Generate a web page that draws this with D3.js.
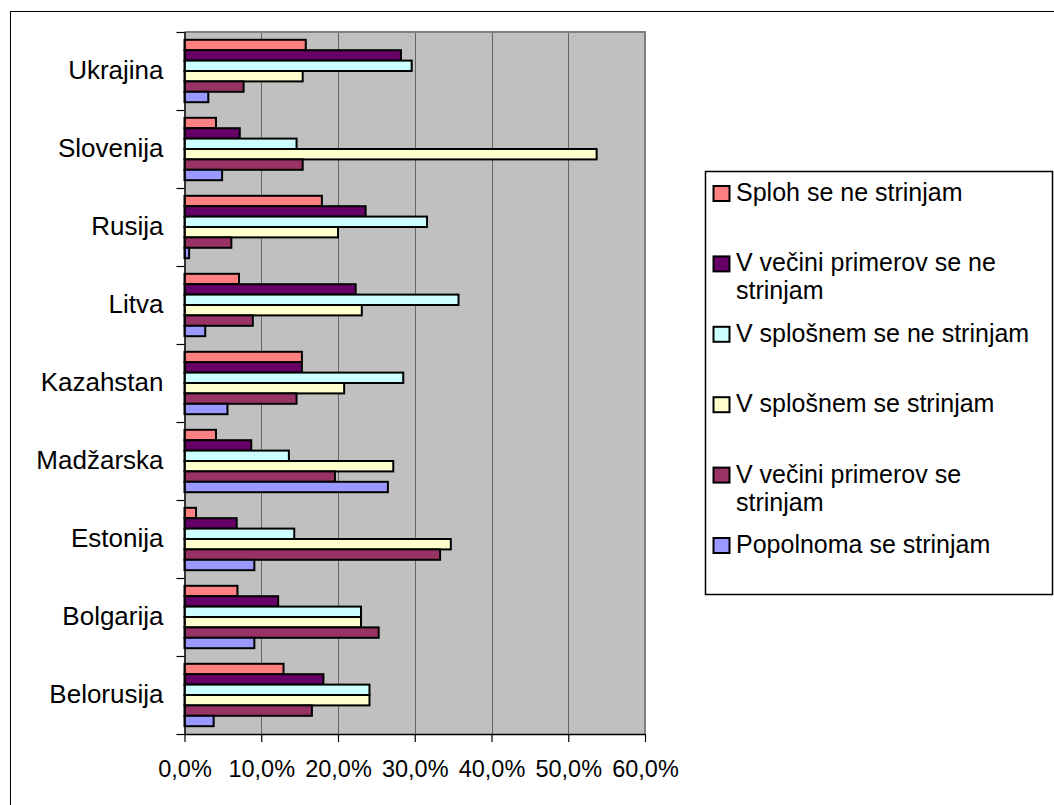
<!DOCTYPE html>
<html>
<head>
<meta charset="utf-8">
<script src="https://cdn.jsdelivr.net/npm/d3@7"></script>
<style>
  html, body { margin: 0; padding: 0; background: #fff; }
  svg { display: block; font-family: "Liberation Sans", Arial, sans-serif; }
</style>
</head>
<body>
<svg id="chart" width="1054" height="805"></svg>
<script>
// Countries, listed from the bottom of the chart to the top
const categories = ["Belorusija", "Bolgarija", "Estonija", "Madžarska", "Kazahstan", "Litva", "Rusija", "Slovenija", "Ukrajina"];

// Answer categories (series), in the order they are stacked inside each group (top first)
const seriesNames = [
  "Sploh se ne strinjam",
  "V večini primerov se ne strinjam",
  "V splošnem se ne strinjam",
  "V splošnem se strinjam",
  "V večini primerov se strinjam",
  "Popolnoma se strinjam"
];

// Share of respondents (%) per country, same order as categories
const splohNe      = [12.9,  6.9,  1.5,  4.1, 15.3,  7.1, 17.9,  4.1, 15.8];
const vecinoma_ne  = [18.1, 12.2,  6.8,  8.7, 15.3, 22.3, 23.6,  7.2, 28.2];
const splosno_ne   = [24.1, 23.0, 14.3, 13.6, 28.5, 35.7, 31.6, 14.6, 29.6];
const splosno_da   = [24.1, 23.0, 34.7, 27.2, 20.8, 23.1, 20.0, 53.7, 15.4];
const vecinoma_da  = [16.6, 25.3, 33.3, 19.6, 14.6,  8.9,  6.1, 15.4,  7.7];
const popolnoma    = [ 3.8,  9.1,  9.1, 26.5,  5.6,  2.7,  0.6,  4.9,  3.1];

const seriesValues = [splohNe, vecinoma_ne, splosno_ne, splosno_da, vecinoma_da, popolnoma];
const seriesColors = ["#FF8080", "#660066", "#CCFFFF", "#FFFFCC", "#993366", "#9999FF"];

// Axis ticks (fraction of 1)
const xTicks = [0, 0.1, 0.2, 0.3, 0.4, 0.5, 0.6];

const svg = d3.select("#chart");

// Outer chart frame
svg.append("rect")
  .attr("x", 10.5).attr("y", 11.5)
  .attr("width", 1100).attr("height", 900)
  .attr("fill", "none").attr("stroke", "#000").attr("stroke-width", 1);

const plot = { left: 184.5, right: 645, top: 32, bottom: 734 };

const x = d3.scaleLinear().domain([0, 0.6]).range([plot.left, plot.right]);
const y0 = d3.scaleBand()
  .domain(categories.slice().reverse())
  .range([plot.top, plot.bottom])
  .padding(0);
const y1 = d3.scaleBand()
  .domain(seriesNames)
  .range([0, y0.bandwidth()])
  .paddingInner(0)
  .paddingOuter(0.75);

// Plot area background
svg.append("rect")
  .attr("x", plot.left).attr("y", plot.top)
  .attr("width", plot.right - plot.left).attr("height", plot.bottom - plot.top)
  .attr("fill", "#C0C0C0");

// Vertical gridlines
svg.append("g")
  .selectAll("line")
  .data(xTicks.slice(1, -1))
  .join("line")
  .attr("x1", d => Math.round(x(d)) + 0.5).attr("x2", d => Math.round(x(d)) + 0.5)
  .attr("y1", plot.top).attr("y2", plot.bottom)
  .attr("stroke", "#666").attr("stroke-width", 1);

// Plot area border (top and right)
svg.append("path")
  .attr("d", `M${plot.left},${plot.top}H${plot.right}V${plot.bottom}`)
  .attr("fill", "none").attr("stroke", "#808080").attr("stroke-width", 2);

// Bars
const rows = [];
categories.forEach((c, ci) => {
  seriesNames.forEach((s, si) => {
    rows.push({ category: c, series: s, value: seriesValues[si][ci] / 100, color: seriesColors[si] });
  });
});

svg.append("g")
  .selectAll("rect")
  .data(rows)
  .join("rect")
  .attr("x", x(0))
  .attr("y", d => y0(d.category) + y1(d.series))
  .attr("width", d => x(d.value) - x(0))
  .attr("height", y1.bandwidth())
  .attr("fill", d => d.color)
  .attr("stroke", "#000")
  .attr("stroke-width", 2);

// Category axis: labels at band centres
const yAxis = svg.append("g")
  .attr("transform", `translate(${plot.left},0)`)
  .call(d3.axisLeft(y0).tickSize(0).tickPadding(21));
yAxis.select(".domain").remove();
yAxis.selectAll("text")
  .attr("font-size", 26)
  .attr("font-family", "Liberation Sans, Arial, sans-serif")
  .attr("fill", "#000");

// Category axis: tick marks on band boundaries
const yIdx = d3.scaleLinear().domain([0, categories.length]).range([plot.bottom, plot.top]);
const yTicks = svg.append("g")
  .attr("transform", `translate(${plot.left},0)`)
  .call(d3.axisLeft(yIdx).ticks(categories.length).tickSize(8).tickFormat(""));
yTicks.selectAll("line").attr("stroke", "#000").attr("stroke-width", 1.2);
yTicks.select(".domain").attr("stroke", "#000").attr("stroke-width", 1.5)
  .attr("d", `M0.5,${plot.top}V${plot.bottom}`);

// Value axis
const fmt = d => (d * 100).toFixed(1).replace(".", ",") + "%";
const xAxis = svg.append("g")
  .attr("transform", `translate(0,${plot.bottom})`)
  .call(d3.axisBottom(x).tickValues(xTicks).tickFormat(fmt).tickSize(8).tickPadding(18));
xAxis.select(".domain").attr("stroke", "#000").attr("stroke-width", 1.5)
  .attr("d", `M${plot.left},0.5H${plot.right}`);
xAxis.selectAll("line").attr("stroke", "#000").attr("stroke-width", 1.2);
xAxis.selectAll("text")
  .attr("font-size", 23.5)
  .attr("font-family", "Liberation Sans, Arial, sans-serif")
  .attr("fill", "#000");

// Legend
const legend = { left: 705, top: 171, right: 1052, bottom: 594 };
svg.append("rect")
  .attr("x", legend.left + 0.5).attr("y", legend.top + 0.5)
  .attr("width", legend.right - legend.left).attr("height", legend.bottom - legend.top)
  .attr("fill", "#fff").attr("stroke", "#000").attr("stroke-width", 1.5);

const textX = 736;
const maxTextWidth = legend.right - textX - 4;
const rowStep = 70.4;
const lineStep = 28;

const items = svg.append("g")
  .selectAll("g")
  .data(seriesNames)
  .join("g")
  .attr("transform", (d, i) => `translate(0,${legend.top + 30 + i * rowStep})`);

items.append("rect")
  .attr("x", 713.5).attr("y", -15)
  .attr("width", 16).attr("height", 15)
  .attr("fill", (d, i) => seriesColors[i])
  .attr("stroke", "#000").attr("stroke-width", 2);

// Legend labels, wrapped onto a second line when too wide for the box
items.each(function(d) {
  const t = d3.select(this).append("text")
    .attr("x", textX).attr("y", 0)
    .attr("font-size", 25)
    .attr("fill", "#000");
  const words = d.split(" ");
  let line = [];
  let tspan = t.append("tspan").attr("x", textX).attr("dy", 0);
  words.forEach(w => {
    line.push(w);
    tspan.text(line.join(" "));
    if (tspan.node().getComputedTextLength() > maxTextWidth && line.length > 1) {
      line.pop();
      tspan.text(line.join(" "));
      line = [w];
      tspan = t.append("tspan").attr("x", textX).attr("dy", lineStep).text(w);
    }
  });
});
</script>
</body>
</html>
